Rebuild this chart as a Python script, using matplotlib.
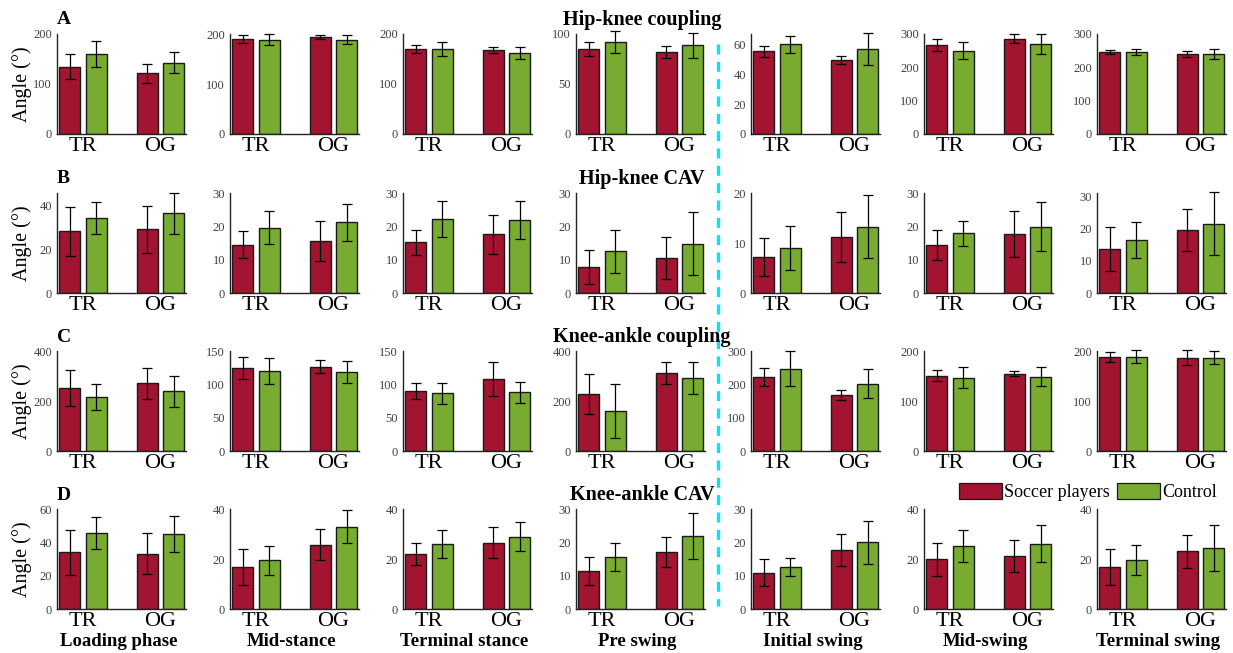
import matplotlib

matplotlib.use("Agg")

import matplotlib.pyplot as plt
from matplotlib.lines import Line2D
from matplotlib.patches import Patch
import numpy as np

plt.rcParams["font.family"] = ["Liberation Serif", "DejaVu Serif"]

phases = ["Loading phase", "Mid-stance", "Terminal stance", "Pre swing",
          "Initial swing", "Mid-swing", "Terminal swing"]
conditions = ["TR", "OG"]
groups = ["Soccer players", "Control"]
row_titles = ["Hip-knee coupling", "Hip-knee CAV", "Knee-ankle coupling", "Knee-ankle CAV"]
row_letters = ["A", "B", "C", "D"]

# each entry is [TR, OG] for one gait phase
hk_coupling_soccer = [[135, 122], [192, 195], [170, 168], [85, 82], [55.5, 49.7], [266, 286], [246, 240]]
hk_coupling_soccer_sd = [[25, 19], [8, 4], [8, 6], [7, 6], [3.7, 2.6], [18, 13.5], [6.5, 8.5]]
hk_coupling_control = [[160, 143], [190, 190], [170, 163], [92, 88.7], [60, 57], [250, 270], [246, 240]]
hk_coupling_control_sd = [[26, 21], [11, 9], [14, 12], [11, 12.5], [5.6, 10.6], [26, 30], [10, 15]]

hk_cav_soccer = [[28, 29], [14.5, 15.6], [15.2, 17.6], [7.8, 10.5], [7.2, 11.2], [14.5, 17.6], [13.7, 19.4]]
hk_cav_soccer_sd = [[11, 10.7], [4, 6], [3.7, 5.9], [5, 6.4], [3.8, 5], [4.5, 6.9], [6.8, 6.5]]
hk_cav_control = [[34.2, 36.2], [19.6, 21.2], [22.2, 21.9], [12.5, 14.8], [9, 13.3], [17.9, 19.9], [16.5, 21.5]]
hk_cav_control_sd = [[7.3, 9.2], [5, 5.5], [5.4, 5.7], [6.4, 9.4], [4.4, 6.3], [3.7, 7.4], [5.6, 9.8]]

ka_coupling_soccer = [[253, 271], [125, 126.5], [90, 108], [227, 311], [223, 168], [151, 155], [189, 187]]
ka_coupling_soccer_sd = [[71, 63], [16.7, 10], [11.7, 25.7], [80, 44], [27, 15], [11, 5.5], [10, 14.5]]
ka_coupling_control = [[217, 240], [120, 118], [86.5, 88], [160, 293], [249, 203], [147, 149], [189, 187]]
ka_coupling_control_sd = [[51, 62], [19, 16.7], [15.7, 16], [107, 64], [54, 44], [21, 19], [12.5, 13.5]]

ka_cav_soccer = [[34, 33.3], [16.8, 25.8], [22.2, 26.6], [11.3, 17], [10.9, 17.7], [19.9, 21.3], [16.8, 23.1]]
ka_cav_soccer_sd = [[13.4, 12.4], [7.1, 6.3], [4.4, 6.3], [4.2, 4.5], [4, 4.9], [6.5, 6.5], [7.1, 6.7]]
ka_cav_control = [[45.5, 44.8], [19.5, 33], [26.2, 28.9], [15.7, 22], [12.6, 20], [25.3, 26.2], [19.5, 24.5]]
ka_cav_control_sd = [[9.5, 10.8], [5.8, 6.7], [5.6, 5.8], [4.2, 6.9], [2.7, 6.4], [6.4, 7.4], [6, 9.2]]

# y-axis limits and ticks for each panel
hk_coupling_ylim = [200, 202, 200, 100, 67, 300, 300]
hk_coupling_ticks = [[0, 100, 200], [0, 100, 200], [0, 100, 200], [0, 50, 100],
                     [0, 20, 40, 60], [0, 100, 200, 300], [0, 100, 200, 300]]
hk_cav_ylim = [45.5, 30, 30, 30, 20, 30, 31]
hk_cav_ticks = [[0, 20, 40], [0, 10, 20, 30], [0, 10, 20, 30], [0, 10, 20, 30],
                [0, 10, 20], [0, 10, 20, 30], [0, 10, 20, 30]]
ka_coupling_ylim = [400, 150, 150, 400, 302, 200, 200]
ka_coupling_ticks = [[0, 200, 400], [0, 50, 100, 150], [0, 50, 100, 150], [0, 200, 400],
                     [0, 100, 200, 300], [0, 100, 200], [0, 100, 200]]
ka_cav_ylim = [60, 40, 40, 30, 30, 40, 40]
ka_cav_ticks = [[0, 20, 40, 60], [0, 20, 40], [0, 20, 40], [0, 10, 20, 30],
                [0, 10, 20, 30], [0, 20, 40], [0, 20, 40]]

rows = [
    (hk_coupling_soccer, hk_coupling_soccer_sd, hk_coupling_control, hk_coupling_control_sd,
     hk_coupling_ylim, hk_coupling_ticks),
    (hk_cav_soccer, hk_cav_soccer_sd, hk_cav_control, hk_cav_control_sd, hk_cav_ylim, hk_cav_ticks),
    (ka_coupling_soccer, ka_coupling_soccer_sd, ka_coupling_control, ka_coupling_control_sd,
     ka_coupling_ylim, ka_coupling_ticks),
    (ka_cav_soccer, ka_cav_soccer_sd, ka_cav_control, ka_cav_control_sd, ka_cav_ylim, ka_cav_ticks),
]

RED = "#A2142F"
GREEN = "#77AC30"
W, H = 1233, 653

col_left = [57, 230, 403, 576, 751, 924, 1097]
row_top = [34, 193, 351, 509]
ax_w, ax_h = 129, 100

fig = plt.figure(figsize=(W / 100, H / 100), dpi=100)
x = np.arange(len(conditions)) + 1
bar_w = 0.27
offset = 0.17
err_kw = dict(fmt="none", ecolor="black", elinewidth=0.9, capsize=3.3, capthick=0.9)

for r, (s_mean, s_sd, c_mean, c_sd, ylims, ticks) in enumerate(rows):
    for c in range(len(phases)):
        ax = fig.add_axes([col_left[c] / W, 1 - (row_top[r] + ax_h) / H, ax_w / W, ax_h / H])
        ax.bar(x - offset, s_mean[c], bar_w, color=RED, edgecolor="#1a1a1a", linewidth=1.0)
        ax.bar(x + offset, c_mean[c], bar_w, color=GREEN, edgecolor="#1a1a1a", linewidth=1.0)
        e1 = ax.errorbar(x - offset, s_mean[c], yerr=s_sd[c], **err_kw)
        e2 = ax.errorbar(x + offset, c_mean[c], yerr=c_sd[c], **err_kw)
        for e in (e1, e2):
            for art in e.lines[1] + e.lines[2]:
                art.set_clip_on(False)
        ax.set_xlim(0.665, 2.33)
        ax.set_ylim(0, ylims[c])
        ax.set_yticks(ticks[c])
        ax.set_yticklabels([str(t) for t in ticks[c]], fontsize=9, color="#404040")
        ax.set_xticks(x)
        ax.set_xticklabels(conditions, fontsize=16)
        ax.tick_params(axis="y", length=0, pad=3.5)
        ax.tick_params(axis="x", length=0, pad=2.5)
        for side in ("top", "right"):
            ax.spines[side].set_visible(False)
        for side in ("left", "bottom"):
            ax.spines[side].set_color("#222222")
            ax.spines[side].set_linewidth(1.0)
        if c == 0:
            ax.set_ylabel("Angle (°)", fontsize=14.5)
            ax.yaxis.set_label_coords(-0.19, 0.5)
            fig.text(col_left[0] / W, 1 - (row_top[r] - 14) / H, row_letters[r],
                     fontsize=14, fontweight="bold", ha="left", va="center")
        if r == len(rows) - 1:
            fig.text((col_left[c] + ax_w / 2 - 3) / W, 1 - 641 / H, phases[c],
                     fontsize=13.5, fontweight="bold", ha="center", va="center")
    fig.text(642 / W, 1 - (row_top[r] - 14) / H, row_titles[r],
             fontsize=14.5, fontweight="bold", ha="center", va="center")

# stance / swing divider
fig.add_artist(Line2D([718 / W, 718 / W], [1 - 44 / H, 1 - 606 / H], transform=fig.transFigure,
                      color="#00E8F8", linewidth=2.4, linestyle=(0, (3, 2.2))))

handles = [Patch(facecolor=RED, edgecolor="#1a1a1a", linewidth=0.9),
           Patch(facecolor=GREEN, edgecolor="#1a1a1a", linewidth=0.9)]
fig.legend(handles, groups, loc="center", bbox_to_anchor=(1088 / W, 1 - 492 / H), ncol=2,
           frameon=False, fontsize=13, handlelength=2.4, handleheight=0.95,
           handletextpad=0.1, columnspacing=0.4, borderpad=0)

fig.savefig("out.png", dpi=100)
plt.close(fig)
